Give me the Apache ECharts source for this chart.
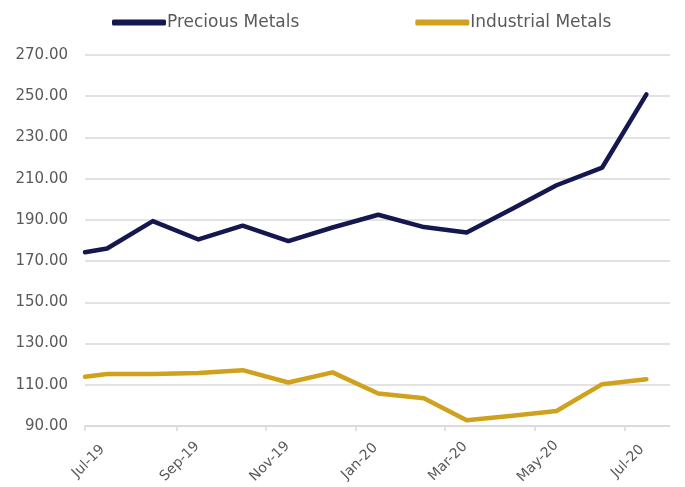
<!DOCTYPE html>
<html>
<head>
<meta charset="utf-8">
<title>Precious vs Industrial Metals</title>
<script src="https://cdn.jsdelivr.net/npm/echarts@6/dist/echarts.min.js"></script>
<style>
  html, body { margin: 0; padding: 0; background: #ffffff; }
  #chart { width: 685px; height: 487px; }
</style>
</head>
<body>
<div id="chart"></div>
<script>
// Observation dates (roughly mid-month readings)
const dates = [
  '2019-07-01', '2019-07-16', '2019-08-16', '2019-09-16', '2019-10-16',
  '2019-11-16', '2019-12-16', '2020-01-16', '2020-02-16', '2020-03-16',
  '2020-04-16', '2020-05-16', '2020-06-16', '2020-07-16'
];

// Index levels
const precious = [174.3, 176.1, 189.4, 180.5, 187.2, 179.7, 186.3, 192.5, 186.5, 183.9, 195.4, 206.8, 215.4, 250.9];
const industrial = [113.9, 115.2, 115.2, 115.7, 117.1, 111.1, 116.0, 105.8, 103.5, 92.8, 95.0, 97.3, 110.3, 112.7];

const seriesNames = ['Precious Metals', 'Industrial Metals'];
const monthNames = ['Jan', 'Feb', 'Mar', 'Apr', 'May', 'Jun', 'Jul', 'Aug', 'Sep', 'Oct', 'Nov', 'Dec'];

const textColor = '#595959';
const gridColor = '#d9d9d9';
const font = 'DejaVu Sans';

const chart = echarts.init(document.getElementById('chart'), null, { renderer: 'canvas' });

chart.setOption({
  animation: false,
  backgroundColor: '#ffffff',
  color: ['#15174f', '#cfa11c'],
  legend: {
    data: seriesNames,
    left: 107,
    top: 9,
    itemGap: 116,
    itemWidth: 54,
    itemHeight: 6,
    icon: 'roundRect',
    textStyle: { color: textColor, fontFamily: font, fontSize: 17, padding: [0, 0, 0, -4] }
  },
  grid: { left: 85, right: 15, top: 55, bottom: 61, containLabel: false, outerBoundsMode: 'none' },
  xAxis: {
    type: 'time',
    min: '2019-07-01',
    max: '2020-08-01',
    splitNumber: 6,
    axisLine: { lineStyle: { color: gridColor, width: 1.5 } },
    axisTick: { show: true, length: 5, lineStyle: { color: gridColor, width: 1.5 } },
    splitLine: { show: false },
    axisLabel: {
      rotate: 45,
      align: 'center',
      verticalAlign: 'middle',
      margin: 39,
      padding: [0, 0, 0, 10],
      color: textColor,
      fontFamily: font,
      fontSize: 14,
      formatter: function (v) {
        const d = new Date(v);
        return monthNames[d.getMonth()] + '-' + String(d.getFullYear()).slice(2);
      }
    }
  },
  yAxis: {
    type: 'value',
    min: 90,
    max: 270,
    interval: 20,
    axisLine: { show: false },
    axisTick: { show: false },
    splitLine: { lineStyle: { color: gridColor, width: 1.5 } },
    axisLabel: {
      margin: 17,
      color: textColor,
      fontFamily: font,
      fontSize: 15,
      formatter: function (v) { return v.toFixed(2); }
    }
  },
  series: [
    {
      name: seriesNames[0],
      type: 'line',
      showSymbol: false,
      data: dates.map((d, i) => [d, precious[i]]),
      lineStyle: { width: 4.5, cap: 'round', join: 'round' }
    },
    {
      name: seriesNames[1],
      type: 'line',
      showSymbol: false,
      data: dates.map((d, i) => [d, industrial[i]]),
      lineStyle: { width: 4.5, cap: 'round', join: 'round' }
    }
  ]
});
</script>
</body>
</html>
